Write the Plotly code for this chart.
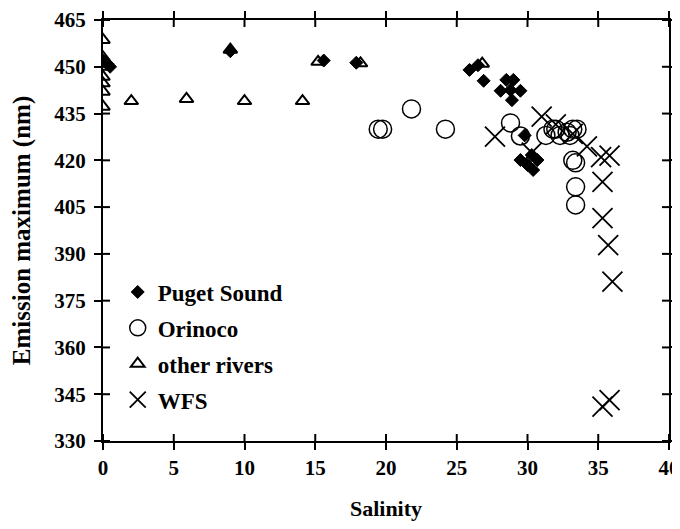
import plotly.graph_objects as go

# Puget Sound (filled diamonds)
puget_x = [0.0, 0.3, 0.5, 9.0, 15.6, 17.9, 25.9, 26.5, 26.9, 28.5, 29.0, 28.1, 28.8, 29.5, 28.9,
           29.8, 29.5, 30.3, 30.7, 30.0, 30.4]
puget_y = [452, 451, 450, 455, 452, 451.3, 449, 450.5, 445.5, 445.8, 445.8, 442.3, 442.5, 442.3, 439.3,
           428, 420.1, 421.7, 420.1, 418.5, 416.9]

# Orinoco (open circles)
orinoco_x = [19.45, 19.76, 21.8, 24.2, 28.8, 29.5, 31.3, 31.8, 32.3, 32.8, 33.2, 33.5, 32.0, 33.0,
             33.2, 33.4, 33.4, 33.4]
orinoco_y = [430, 430, 436.5, 430, 432, 427.8, 428, 430, 428, 429, 430, 430, 430, 428,
             420, 419.2, 411.5, 405.7]

# other rivers (open triangles)
rivers_x = [0, 0, 0, 0, 0, 0, 0, 2.0, 5.9, 10.0, 14.1, 9.0, 15.2, 18.2, 26.8]
rivers_y = [458.6, 453, 450, 446.8, 444.7, 442, 437.2, 439, 439.7, 439, 439, 455.5, 451.6, 451.1, 451]

# WFS (crosses)
wfs_x = [27.7, 30.3, 31.0, 32.0, 33.2, 34.2, 35.2, 35.8, 35.3, 35.3, 35.7, 36.0, 35.3, 35.8]
wfs_y = [427.6, 422.5, 434, 431.5, 428.5, 424.5, 421, 421.5, 413.1, 401.5, 392.8, 381.1, 341, 343.1]

x_ticks = [0, 5, 10, 15, 20, 25, 30, 35, 40]
y_ticks = [330, 345, 360, 375, 390, 405, 420, 435, 450, 465]
x_range = [0, 40]
y_range = [330, 465]

FONT = "Liberation Serif"

fig = go.Figure()
fig.add_trace(go.Scatter(x=puget_x, y=puget_y, mode="markers", name="<b>Puget Sound</b>",
                         legendgroup="a",
                         marker=dict(symbol="diamond", size=10, color="black",
                                     line=dict(color="black", width=1))))
fig.add_trace(go.Scatter(x=orinoco_x, y=orinoco_y, mode="markers", name="<b>Orinoco</b>",
                         legendgroup="b",
                         marker=dict(symbol="circle-open", size=18, color="black",
                                     line=dict(color="black", width=1.5))))
fig.add_trace(go.Scatter(x=rivers_x, y=rivers_y, mode="markers", name="<b>other rivers</b>",
                         legendgroup="c",
                         marker=dict(symbol="triangle-up-open", size=12, color="black",
                                     line=dict(color="black", width=2))))
fig.add_trace(go.Scatter(x=wfs_x, y=wfs_y, mode="markers", name="<b>WFS</b>",
                         legendgroup="d",
                         marker=dict(symbol="x-thin-open", size=20, color="black",
                                     line=dict(color="black", width=1.8))))

axis_common = dict(showline=True, linecolor="black", linewidth=2, mirror="ticks",
                   ticks="outside", ticklen=7, tickwidth=2, tickcolor="black",
                   showgrid=False, zeroline=False, automargin=False,
                   tickfont=dict(family=FONT, size=21, color="black"))

# inward halves of the crossing tick marks (placed at the tick values)
tick_line = dict(color="black", width=2)
shapes = []
for t in x_ticks:
    shapes.append(dict(type="line", xref="x", x0=t, x1=t, yref="paper", ysizemode="pixel",
                       yanchor=0, y0=0, y1=7, line=tick_line))
    shapes.append(dict(type="line", xref="x", x0=t, x1=t, yref="paper", ysizemode="pixel",
                       yanchor=1, y0=0, y1=-7, line=tick_line))
for t in y_ticks:
    shapes.append(dict(type="line", yref="y", y0=t, y1=t, xref="paper", xsizemode="pixel",
                       xanchor=0, x0=0, x1=7, line=tick_line))
    shapes.append(dict(type="line", yref="y", y0=t, y1=t, xref="paper", xsizemode="pixel",
                       xanchor=1, x0=0, x1=-7, line=tick_line))

fig.update_layout(
    xaxis=dict(range=x_range, tickvals=x_ticks, ticktext=[f"<b>{v}</b>" for v in x_ticks],
               title=dict(text="<b>Salinity</b>", font=dict(family=FONT, size=22, color="black"),
                          standoff=25),
               **axis_common),
    yaxis=dict(range=y_range, tickvals=y_ticks, ticktext=[f"<b>{v}</b>" for v in y_ticks],
               ticklabelstandoff=4,
               title=dict(text="<b>Emission maximum (nm)</b>",
                          font=dict(family=FONT, size=25, color="black"), standoff=17),
               **axis_common),
    shapes=shapes,
    width=672, height=513,
    margin=dict(l=95, r=11, t=12, b=80),
    paper_bgcolor="white", plot_bgcolor="white",
    showlegend=True,
    legend=dict(x=0.026, y=0.405, xanchor="left", yanchor="top",
                font=dict(family=FONT, size=23, color="black"),
                bgcolor="rgba(0,0,0,0)", traceorder="grouped", tracegroupgap=3,
                itemsizing="trace"),
)

fig.write_html("out.html")
